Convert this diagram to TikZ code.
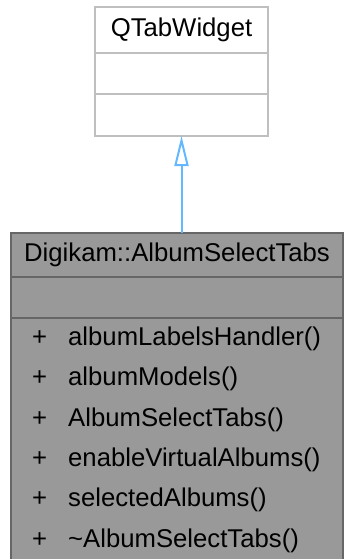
\documentclass[tikz,border=0pt]{standalone}
\usepackage{fontspec}
\setmainfont{Liberation Sans}
\usetikzlibrary{positioning, arrows.meta}
\definecolor{edgeblue}{HTML}{63B8FF}

\begin{document}
\begin{tikzpicture}[
        x=1pt, y=-1pt,
        node distance=0pt,
        font=\fontsize{25.7}{30}\selectfont,
        basepart/.style={rectangle, draw=black!25, line width=2pt, fill=white, minimum width=173pt, inner sep=0pt, outer sep=0pt},
        classpart/.style={rectangle, draw=black!60, line width=2pt, fill=black!40, minimum width=332pt, inner sep=0pt, outer sep=0pt},
        member/.style={anchor=base west, inner sep=0pt},
        inherit/.style={-{Triangle[open, length=30pt, width=14pt]}, draw=edgeblue, line width=2pt}
    ]
        \useasboundingbox (0,0) rectangle (343,559);

        % Nodes
        \node[basepart, minimum height=46pt] (qtab) at (181.5,30) {QTabWidget};
        \node[basepart, minimum height=41.5pt, below=of qtab] (qtabattr) {};
        \node[basepart, minimum height=41.5pt, below=of qtabattr] (qtabops) {};

        \node[classpart, minimum height=44pt] (tabs) at (177,255) {Digikam::AlbumSelectTabs};
        \node[classpart, minimum height=41pt, below=of tabs] (tabsattr) {};
        \node[classpart, minimum height=245pt, below=of tabsattr] (tabsops) {};

        \foreach \name [count=\i from 0] in {albumLabelsHandler(), albumModels(), AlbumSelectTabs(), enableVirtualAlbums(), selectedAlbums(), \textasciitilde AlbumSelectTabs()} {
            \node[member] (plus\i) at (32,{345.5+40.3*\i}) {+};
            \node[member] (op\i) at (68,{345.5+40.3*\i}) {\name};
        }

        % Paths
        \draw[inherit] (tabs.north -| qtabops.south) -- (qtabops.south);
    \end{tikzpicture}
\end{document}
